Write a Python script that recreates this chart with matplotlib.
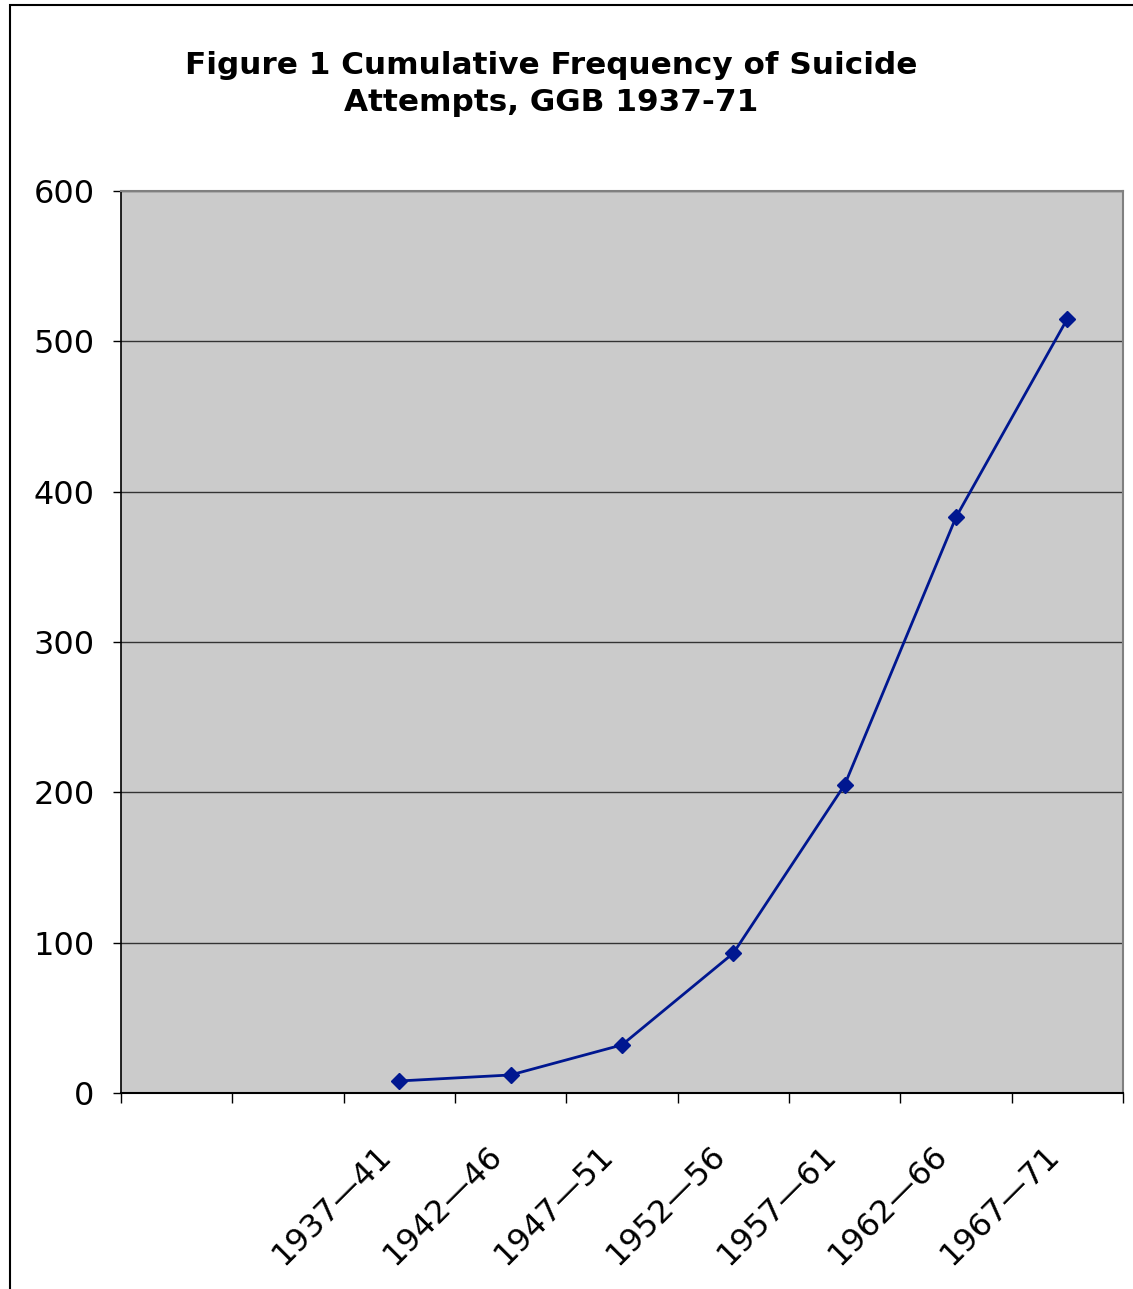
import matplotlib
matplotlib.use("Agg")
import matplotlib.pyplot as plt
from matplotlib.patches import Rectangle
from matplotlib.ticker import FixedLocator, NullFormatter
from matplotlib.transforms import ScaledTranslation

# Data
periods = ["1937\u201441", "1942\u201446", "1947\u201451", "1952\u201456",
           "1957\u201461", "1962\u201466", "1967\u201471"]
cumulative = [8, 12, 32, 93, 205, 383, 515]
n_slots = 9          # category slots on the axis (first two are empty)
first_slot = 2
y_ticks = [0, 100, 200, 300, 400, 500, 600]
title = "Figure 1 Cumulative Frequency of Suicide\nAttempts, GGB 1937-71"

W, H = 1133, 1289
fig = plt.figure(figsize=(W / 100, H / 100), dpi=100)
fig.patch.set_facecolor("white")

# outer chart frame (cut off at right and bottom)
fig.patches.append(Rectangle((10 / W, -0.1), 1.2, 1 - 5 / H + 0.1,
                             transform=fig.transFigure, fill=False,
                             edgecolor="black", linewidth=1.5))

ax = fig.add_axes([121 / W, 1 - 1093 / H, 1002 / W, 902 / H])
ax.set_facecolor("#CBCBCB")

xs = [first_slot + i + 0.5 for i in range(len(cumulative))]
ax.plot(xs, cumulative, color="#001790", linewidth=2, marker="D",
        markersize=8, markerfacecolor="#001790", markeredgecolor="#001790",
        zorder=3)

ax.set_xlim(0, n_slots)
ax.set_ylim(0, 600)
ax.set_yticks(y_ticks)
ax.yaxis.grid(True, color="#333333", linewidth=1)
ax.set_axisbelow(True)

ax.xaxis.set_major_locator(FixedLocator(list(range(n_slots + 1))))
ax.xaxis.set_major_formatter(NullFormatter())
ax.xaxis.set_minor_locator(FixedLocator(xs))
ax.set_xticklabels(periods, minor=True, rotation=45, ha="right", va="top",
                   rotation_mode="anchor", fontsize=23)
ax.tick_params(axis="x", which="major", length=7, width=1, color="black",
               direction="out")
ax.tick_params(axis="x", which="minor", length=0, pad=34)
ax.tick_params(axis="y", length=6, width=1, color="black", labelsize=23,
               pad=13)
shift = ScaledTranslation(-24 / 100, 0, fig.dpi_scale_trans)
for lab in ax.get_xticklabels(minor=True):
    lab.set_transform(lab.get_transform() + shift)

for s in ["top", "right"]:
    ax.spines[s].set_color("#808080")
    ax.spines[s].set_linewidth(1.5)
ax.spines["left"].set_color("black")
ax.spines["bottom"].set_color("black")
ax.spines["left"].set_linewidth(1.2)
ax.spines["bottom"].set_linewidth(1.5)

fig.text(551 / W, 1 - 84 / H, title, ha="center", va="center",
         fontsize=22.4, fontweight="bold", linespacing=1.34)

fig.savefig("out.png", dpi=100)
